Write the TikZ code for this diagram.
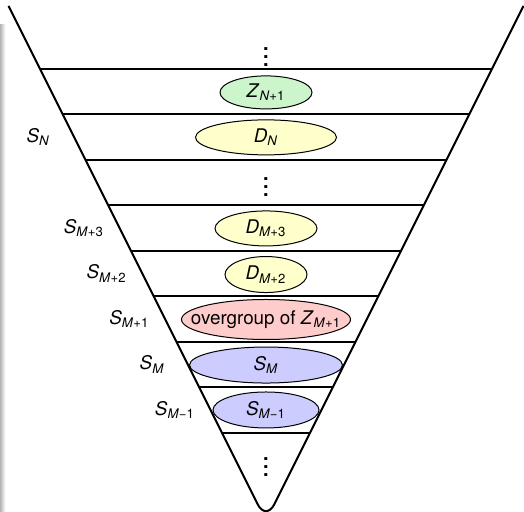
\documentclass[tikz,border=0pt]{standalone}
\usepackage{fontspec}
\setmainfont{TeX Gyre Heros}
\usetikzlibrary{shapes.geometric}
\newcommand{\mi}[1]{\textit{#1}}
\newcommand{\grpname}[2]{\textit{#1}\textsubscript{#2}}
\newcommand{\inside}[1]{\makebox[0pt]{#1}}
\definecolor{lvlGreen}{HTML}{CCF5CC}
\definecolor{lvlYellow}{HTML}{FFFFCC}
\definecolor{lvlRed}{HTML}{FFCCCC}
\definecolor{lvlBlue}{HTML}{CCCCFF}
\tikzset{
    funnel/.style={line width=1pt, rounded corners=0.33cm},
    rung/.style={line width=1pt},
    layer/.style={ellipse, draw, line width=0.5pt, inner sep=0pt, minimum height=18pt, text=black},
    side/.style={anchor=center},
    more/.style={font=\normalsize\bfseries}
}
\begin{document}
\begin{tikzpicture}[font=\fontsize{9.4}{11}\selectfont]
\useasboundingbox (-4.674,0.158) rectangle (4.533,9.154);
% page edge
\shade[left color=black!30, right color=white] (-4.674,0.158) rectangle (-4.58,8.715);
% funnel and its levels
\draw[funnel] (-4.525,9.05) -- (0,0) -- (4.525,9.05);
\foreach \y in {1.55,2.35,...,8.0} \draw[rung] (-\y/2,\y) -- (\y/2,\y);
% groups
\node[more] (top) at (0,8.26) {\vdots};
\node[layer, fill=lvlGreen, minimum width=46pt, minimum height=16.5pt] (zn) at (0,7.53) {\inside{\grpname{Z}{\mi{N}+1}}};
\node[layer, fill=lvlYellow, minimum width=70.5pt, minimum height=17.5pt] (dn) at (0,6.74) {\inside{\grpname{D}{\mi{N}}}};
\node[more] (mid) at (0,5.98) {\vdots};
\node[layer, fill=lvlYellow, minimum width=51pt, minimum height=17.5pt] (dm3) at (0,5.14) {\inside{\grpname{D}{\mi{M}+3}}};
\node[layer, fill=lvlYellow, minimum width=41pt] (dm2) at (0,4.33) {\inside{\grpname{D}{\mi{M}+2}}};
\node[layer, fill=lvlRed, minimum width=84.5pt, minimum height=20pt] (ovr) at (0,3.54) {\inside{overgroup of \grpname{Z}{\mi{M}+1}}};
\node[layer, fill=lvlBlue, minimum width=76.5pt] (sm) at (0,2.74) {\inside{\grpname{S}{\mi{M}}}};
\node[layer, fill=lvlBlue, minimum width=53pt] (sm1) at (0,1.95) {\inside{\grpname{S}{\mi{M}−1}}};
\node[more] (bot) at (0,1.06) {\vdots};
% side labels
\node[side] (ln) at (-4.0,6.75) {\grpname{S}{\mi{N}}};
\node[side] (lm3) at (-3.2,5.15) {\grpname{S}{\mi{M}+3}};
\node[side] (lm2) at (-2.8,4.35) {\grpname{S}{\mi{M}+2}};
\node[side] (lm1) at (-2.4,3.55) {\grpname{S}{\mi{M}+1}};
\node[side] (lm) at (-2.0,2.75) {\grpname{S}{\mi{M}}};
\node[side] (lmm) at (-1.6,1.95) {\grpname{S}{\mi{M}−1}};
\end{tikzpicture}
\end{document}
